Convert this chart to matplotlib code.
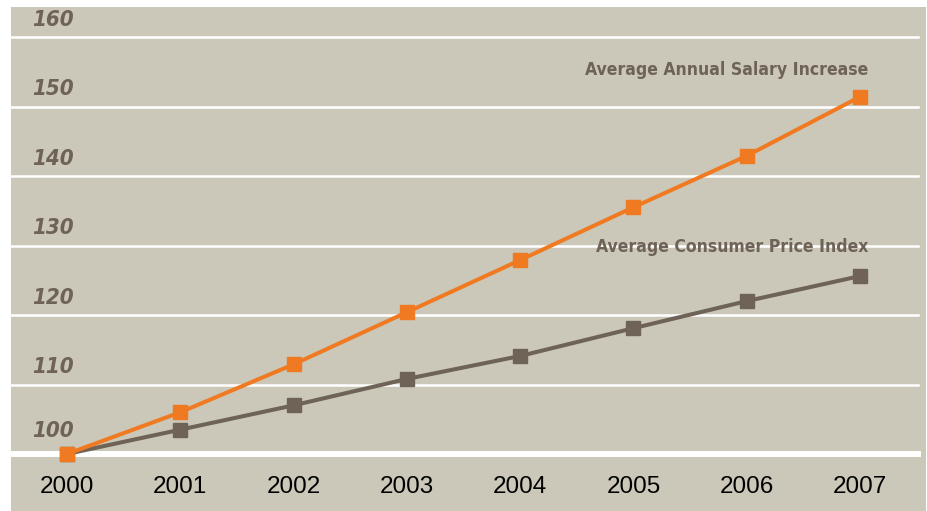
import matplotlib
matplotlib.use("Agg")
import matplotlib.pyplot as plt
from matplotlib.patches import Rectangle

years = [2000, 2001, 2002, 2003, 2004, 2005, 2006, 2007]
salary = [100, 106.0, 112.9, 120.4, 127.9, 135.5, 142.9, 151.4]
cpi = [100, 103.5, 107.0, 110.8, 114.1, 118.1, 122.0, 125.6]
y_ticks = [100, 110, 120, 130, 140, 150, 160]
salary_label = "Average Annual Salary Increase"
cpi_label = "Average Consumer Price Index"

BG = "#cbc8b9"
ORANGE = "#f07a21"
BROWN = "#6e6356"
W, H = 928, 511

fig = plt.figure(figsize=(W / 100, H / 100), dpi=100)
fig.patch.set_facecolor("white")
fig.patches.append(Rectangle((11 / W, 0), (926 - 11) / W, 1 - 7 / H,
                             transform=fig.transFigure, facecolor=BG,
                             edgecolor="none", zorder=-5))

ax = fig.add_axes([11 / W, 1 - 454 / H, (918 - 11) / W, (454 - 37) / H])
ax.set_facecolor("none")
for s in ax.spines.values():
    s.set_visible(False)
ax.set_xlim(1999.506, 2007.512)
ax.set_ylim(100, 160)
ax.set_xticks([])
ax.set_yticks([])

for v in y_ticks:
    lw = 4.3 if v == 100 else 1.8
    ax.axhline(v, color="white", lw=lw, zorder=1, clip_on=False)

for v in y_ticks:
    off = 3.3 if v == 100 else 2.5
    ax.text((32 - 11) / 907, v + off, str(v), transform=ax.get_yaxis_transform(),
            ha="left", va="center", fontsize=16, fontstyle="italic",
            fontweight="bold", color=BROWN, fontstretch="condensed", zorder=2)

ax.plot(years, cpi, color=BROWN, lw=2.9, marker="s", markersize=10,
        zorder=3, clip_on=False)
ax.plot(years, salary, color=ORANGE, lw=2.9, marker="s", markersize=10,
        zorder=4, clip_on=False)

for y in years:
    ax.text(y, -33 / (454 - 37), str(y), transform=ax.get_xaxis_transform(),
            ha="center", va="center", fontsize=17.5, color="black",
            family=["Liberation Sans", "DejaVu Sans"])

ax.text(2007 + (868 - 860) / 113.3, 155.2, salary_label,
        ha="right", va="center", fontsize=12.6, fontweight="bold",
        color=BROWN, fontstretch="condensed", zorder=5)
ax.text(2007 + (868 - 860) / 113.3, 129.8, cpi_label,
        ha="right", va="center", fontsize=12.6, fontweight="bold",
        color=BROWN, fontstretch="condensed", zorder=5)

fig.savefig("out.png", dpi=100, facecolor="white")
